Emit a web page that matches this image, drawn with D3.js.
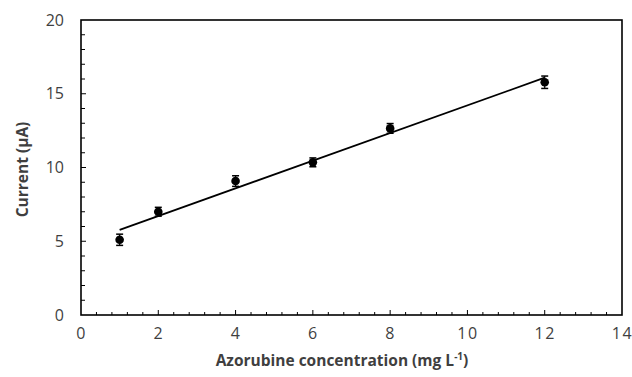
<!DOCTYPE html>
<html>
<head>
<meta charset="utf-8">
<script src="https://cdn.jsdelivr.net/npm/d3@7"></script>
<style>
  html, body { margin: 0; padding: 0; background: #fff; }
  svg { display: block; }
  text { font-family: "Open Sans", "Noto Sans", "Liberation Sans", sans-serif; }
</style>
</head>
<body>
<svg id="chart" width="632" height="377"></svg>
<script>
// Azorubine calibration data
const concentrations = [1, 2, 4, 6, 8, 12];          // mg L-1
const currents = [5.1, 7.0, 9.08, 10.35, 12.65, 15.78]; // µA
const errors = [0.38, 0.3, 0.36, 0.3, 0.33, 0.42];     // µA
const xTicks = [0, 2, 4, 6, 8, 10, 12, 14];
const yTicks = [0, 5, 10, 15, 20];

const W = 632, H = 377;
const margin = { left: 81, right: 10, top: 20, bottom: 62 };
const svg = d3.select("#chart");

const x = d3.scaleLinear().domain([0, 14]).range([margin.left, W - margin.right]);
const y = d3.scaleLinear().domain([0, 20]).range([H - margin.bottom, margin.top]);

const textColor = "#3f3f3f";

// Minor ticks (inward)
const xMinor = d3.range(0, 14.0001, 0.4).filter(v => v > 0 && v < 14 - 1e-6);
svg.append("g").selectAll("line").data(xMinor).join("line")
  .attr("x1", d => x(d)).attr("x2", d => x(d))
  .attr("y1", y(0)).attr("y2", d => y(0) - (Math.abs(d / 2 - Math.round(d / 2)) < 1e-6 ? 5 : 3))
  .attr("stroke", "#000").attr("stroke-width", 1);

const yMinor = d3.range(1, 20, 1);
svg.append("g").selectAll("line").data(yMinor).join("line")
  .attr("x1", x(0)).attr("x2", d => x(0) + (d % 5 === 0 ? 5 : 4))
  .attr("y1", d => y(d)).attr("y2", d => y(d))
  .attr("stroke", "#000").attr("stroke-width", 1);

// Axes labels via d3 axes (no tick marks)
const xAxis = svg.append("g")
  .attr("transform", `translate(0,${y(0)})`)
  .call(d3.axisBottom(x).tickValues(xTicks).tickSize(0).tickPadding(13).tickFormat(d3.format("d")));
xAxis.select(".domain").remove();
xAxis.selectAll("text").attr("font-size", 16).attr("fill", textColor)
  .attr("font-family", "'Open Sans', 'Noto Sans', sans-serif").attr("letter-spacing", "1.5px");

const yAxis = svg.append("g")
  .attr("transform", `translate(${x(0)},0)`)
  .call(d3.axisLeft(y).tickValues(yTicks).tickSize(0).tickPadding(17).tickFormat(d3.format("d")));
yAxis.select(".domain").remove();
yAxis.selectAll("text").attr("font-size", 16).attr("fill", textColor)
  .attr("font-family", "'Open Sans', 'Noto Sans', sans-serif");

// Plot frame
svg.append("rect")
  .attr("x", x(0)).attr("y", y(20))
  .attr("width", x(14) - x(0)).attr("height", y(0) - y(20))
  .attr("fill", "none").attr("stroke", "#000").attr("stroke-width", 1.6);

// Linear trend line (least squares)
const mx = d3.mean(concentrations), my = d3.mean(currents);
const sxy = d3.sum(concentrations, (c, i) => (c - mx) * (currents[i] - my));
const sxx = d3.sum(concentrations, c => (c - mx) ** 2);
const slope = sxy / sxx, intercept = my - slope * mx;
const xFit = d3.extent(concentrations);
svg.append("line")
  .attr("x1", x(xFit[0])).attr("y1", y(intercept + slope * xFit[0]))
  .attr("x2", x(xFit[1])).attr("y2", y(intercept + slope * xFit[1]))
  .attr("stroke", "#000").attr("stroke-width", 1.8);

// Error bars and points
const pts = concentrations.map((c, i) => ({ c, v: currents[i], e: errors[i] }));
const eb = svg.append("g").selectAll("g").data(pts).join("g");
eb.append("line")
  .attr("x1", d => x(d.c)).attr("x2", d => x(d.c))
  .attr("y1", d => y(d.v - d.e)).attr("y2", d => y(d.v + d.e))
  .attr("stroke", "#000").attr("stroke-width", 1.2);
eb.selectAll(".cap").data(d => [d.v - d.e, d.v + d.e].map(v => ({ c: d.c, v })))
  .join("line").attr("class", "cap")
  .attr("x1", d => x(d.c) - 3.5).attr("x2", d => x(d.c) + 3.5)
  .attr("y1", d => y(d.v)).attr("y2", d => y(d.v))
  .attr("stroke", "#000").attr("stroke-width", 1.5);
eb.append("circle")
  .attr("cx", d => x(d.c)).attr("cy", d => y(d.v)).attr("r", 4.3)
  .attr("fill", "#000");

// Axis titles
const xt = svg.append("text")
  .attr("x", 342).attr("y", 366)
  .attr("text-anchor", "middle")
  .attr("font-size", 15.5).attr("font-weight", "bold").attr("fill", textColor);
xt.append("tspan").text("Azorubine concentration (mg L");
xt.append("tspan").attr("font-size", 10).attr("dy", -6).text("-1");
xt.append("tspan").attr("dy", 6).text(")");

svg.append("text")
  .attr("transform", `translate(28,${(y(0) + y(20)) / 2 + 2}) rotate(-90)`)
  .attr("text-anchor", "middle")
  .attr("font-size", 15.5).attr("font-weight", "bold").attr("fill", textColor)
  .text("Current (µA)");
</script>
</body>
</html>
